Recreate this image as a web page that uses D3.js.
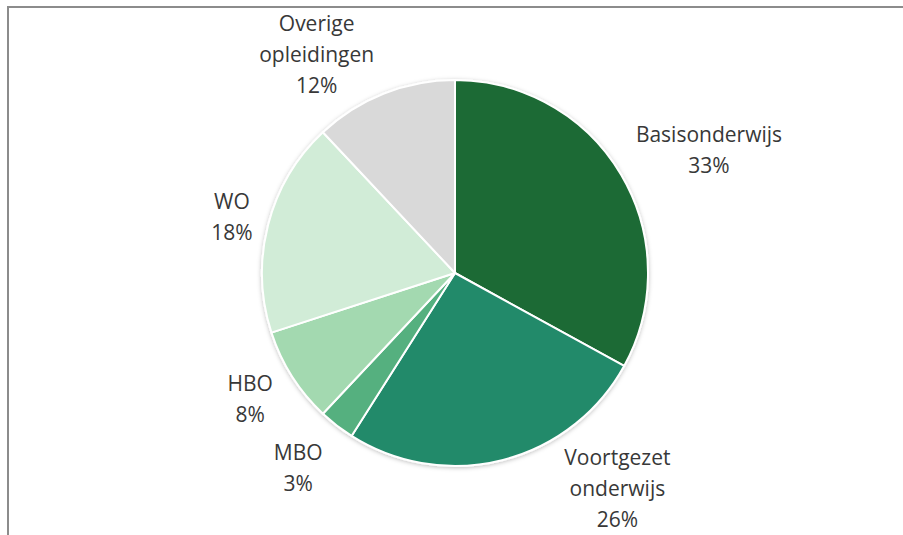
<!DOCTYPE html>
<html lang="nl">
<head>
<meta charset="UTF-8">
<script src="https://d3js.org/d3.v7.min.js"></script>
<style>
  html, body { margin: 0; padding: 0; background: #fff; }
  svg { display: block; }
  .lbl { font-family: "Open Sans", sans-serif; font-size: 21px; fill: #383838; }
</style>
</head>
<body>
<svg id="chart" width="903" height="535"></svg>
<script>
// data
var categories = ["Basisonderwijs", "Voortgezet onderwijs", "MBO", "HBO", "WO", "Overige opleidingen"];
var shares = [33, 26, 3, 8, 18, 12];
var labelLines = [["Basisonderwijs"], ["Voortgezet", "onderwijs"], ["MBO"], ["HBO"], ["WO"], ["Overige", "opleidingen"]];
var colors = ["#1b6a34", "#238a6b", "#55b07f", "#a3d9b0", "#d1ecd7", "#d9d9d9"];

// label nudges (layout only)
var nudge = [[38, 5], [100, -27], [-3, -3], [7, -8], [20, 7], [-46, 15]];

var svg = d3.select("#chart");
var cx = 455, cy = 273, r = 193;

// frame
svg.append("path")
    .attr("d", "M8,535 L8,7 L903,7")
    .attr("fill", "none")
    .attr("stroke", "#8c8c8c")
    .attr("stroke-width", 2);

var defs = svg.append("defs");
var f = defs.append("filter").attr("id", "shadow")
    .attr("x", "-10%").attr("y", "-10%").attr("width", "120%").attr("height", "120%");
f.append("feDropShadow")
    .attr("dx", 0).attr("dy", 1).attr("stdDeviation", 2)
    .attr("flood-color", "#000").attr("flood-opacity", 0.25);

var data = categories.map((c, i) => ({ name: c, value: shares[i], lines: labelLines[i], color: colors[i], i: i }));

var pie = d3.pie().value(d => d.value).sort(null);
var arcs = pie(data);
var arc = d3.arc().innerRadius(0).outerRadius(r);
var labelArc = d3.arc().innerRadius(r * 1.3).outerRadius(r * 1.3);

var g = svg.append("g").attr("transform", `translate(${cx},${cy})`);

g.append("g").attr("filter", "url(#shadow)")
  .selectAll("path")
  .data(arcs)
  .enter().append("path")
    .attr("d", arc)
    .attr("fill", d => d.data.color)
    .attr("stroke", "#fff")
    .attr("stroke-width", 2)
    .attr("stroke-linejoin", "round");

var lineH = 31;
var labels = g.selectAll(".lbl")
  .data(arcs)
  .enter().append("text")
    .attr("class", "lbl")
    .attr("text-anchor", "middle")
    .attr("transform", d => {
        var c = labelArc.centroid(d);
        var n = nudge[d.data.i];
        return `translate(${c[0] + n[0]},${c[1] + n[1]})`;
    });

labels.each(function(d) {
    var t = d3.select(this);
    var lines = d.data.lines.concat([d.data.value + "%"]);
    var y0 = -(lines.length - 1) * lineH / 2;
    lines.forEach((s, k) => {
        t.append("tspan")
            .attr("x", 0)
            .attr("y", y0 + k * lineH)
            .attr("dy", "0.35em")
            .text(s);
    });
});
</script>
</body>
</html>
